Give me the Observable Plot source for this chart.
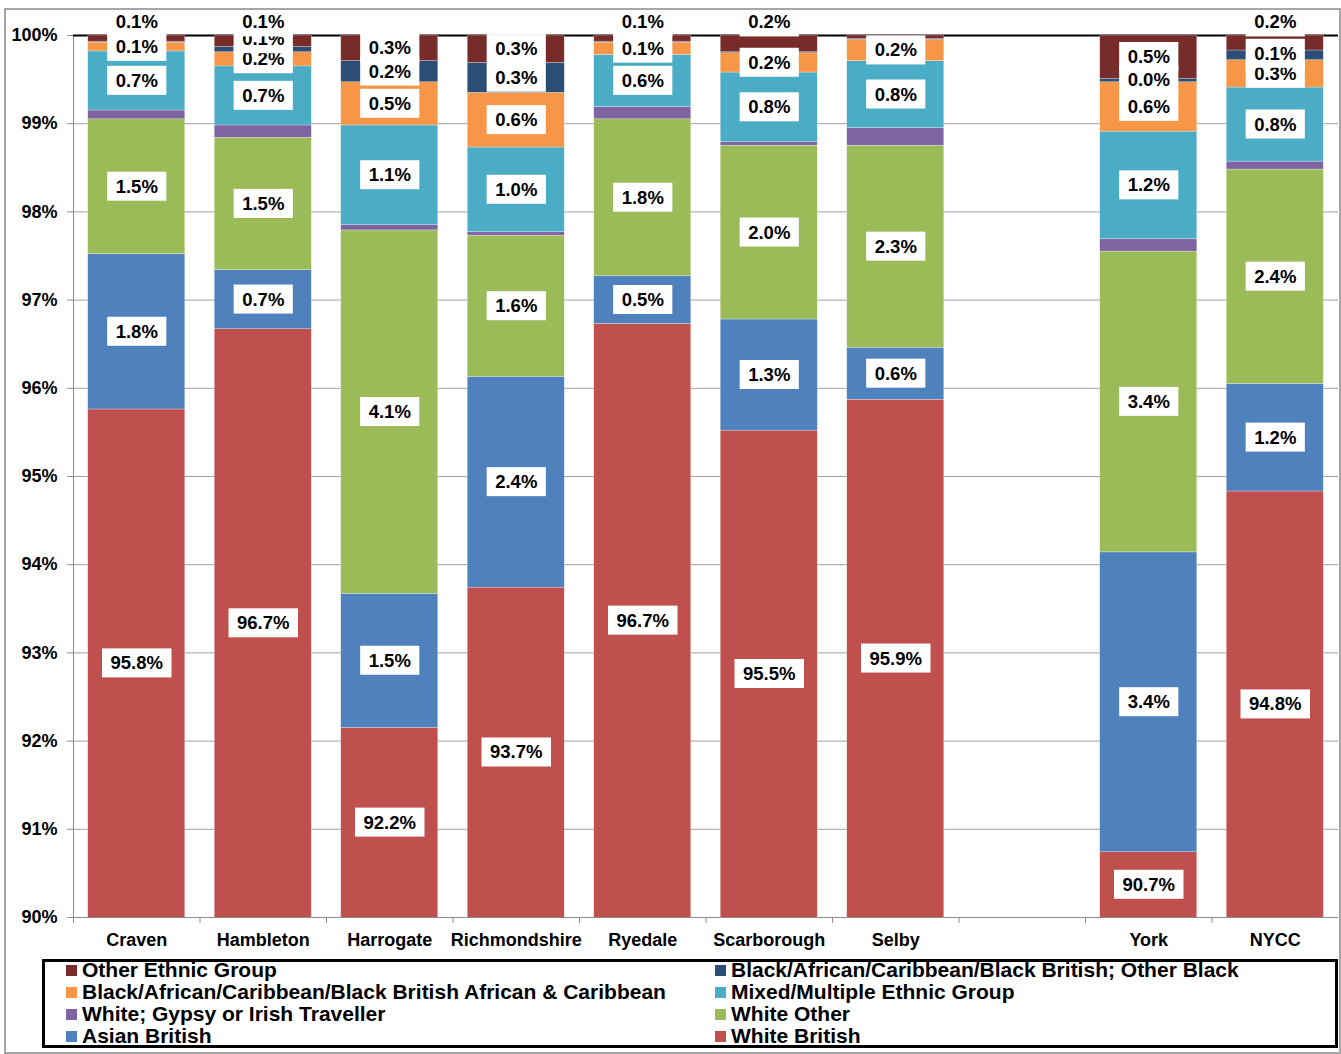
<!DOCTYPE html>
<html>
<head>
<meta charset="utf-8">
<script src="https://cdn.jsdelivr.net/npm/d3@7"></script>
<script src="https://cdn.jsdelivr.net/npm/@observablehq/plot@0.6"></script>
<style>
  body { margin: 0; background: #fff; font-family: "Liberation Sans", Arial, sans-serif; }
  #wrap { position: relative; width: 1341px; height: 1054px; overflow: hidden; }
  #chart { position: absolute; left: 0; top: 0; }
  #frame { position: absolute; left: 4px; top: 8px; width: 1337px; height: 1046px; border: 2px solid #a6a6a6; box-sizing: border-box; pointer-events: none; }
  #legend { position: absolute; left: 42px; top: 959px; width: 1296px; height: 89px; border: 3px solid #000; box-sizing: border-box; background: #fff; }
  #legend .grid { position: absolute; left: 21px; top: -3px; display: grid; grid-template-columns: 649px 600px; }
  #legend .item { font-size: 21px; font-weight: bold; line-height: 22px; height: 22px; white-space: nowrap; color: #000; }
  #legend .sw { display: inline-block; width: 11px; height: 11px; margin-right: 5px; vertical-align: 1px; }
</style>
</head>
<body>
<div id="wrap">
  <div id="chart"></div>
  <div id="legend"><div class="grid"></div></div>
  <div id="frame"></div>
</div>
<script>
// ---------- data ----------
const categories = ["Craven", "Hambleton", "Harrogate", "Richmondshire", "Ryedale", "Scarborough", "Selby", " ", "York", "NYCC"];

const series = [
  "White British",
  "Asian British",
  "White Other",
  "White; Gypsy or Irish Traveller",
  "Mixed/Multiple Ethnic Group",
  "Black/African/Caribbean/Black British African & Caribbean",
  "Black/African/Caribbean/Black British; Other Black",
  "Other Ethnic Group"
];

const colors = ["#C0504D", "#4F81BD", "#9BBB59", "#8064A2", "#4BACC6", "#F79646", "#2C4D75", "#772C2A"];

const whiteBritish  = [95.76, 96.67, 92.15, 93.74, 96.73, 95.52, 95.87, null, 90.74, 94.83];
const asianBritish  = [1.76, 0.67, 1.52, 2.39, 0.54, 1.26, 0.59, null, 3.40, 1.22];
const whiteOther    = [1.53, 1.50, 4.12, 1.60, 1.78, 1.97, 2.29, null, 3.41, 2.43];
const gypsyTraveller= [0.10, 0.14, 0.06, 0.04, 0.14, 0.04, 0.20, null, 0.14, 0.09];
const mixed         = [0.67, 0.67, 1.13, 0.96, 0.59, 0.79, 0.76, null, 1.22, 0.84];
const blackAfrCarib = [0.10, 0.16, 0.49, 0.62, 0.14, 0.22, 0.24, null, 0.56, 0.31];
const otherBlack    = [0.01, 0.06, 0.24, 0.34, 0.01, 0.01, 0.01, null, 0.04, 0.11];
const otherEthnic   = [0.07, 0.13, 0.29, 0.31, 0.07, 0.19, 0.04, null, 0.49, 0.17];

const seriesValues = [whiteBritish, asianBritish, whiteOther, gypsyTraveller, mixed, blackAfrCarib, otherBlack, otherEthnic];

const yTicks = [90, 91, 92, 93, 94, 95, 96, 97, 98, 99, 100];

// data labels that are not shown in the chart
const hiddenLabels = [
  ["Craven", "White; Gypsy or Irish Traveller"], ["Craven", "Black/African/Caribbean/Black British; Other Black"],
  ["Hambleton", "White; Gypsy or Irish Traveller"],
  ["Harrogate", "White; Gypsy or Irish Traveller"],
  ["Richmondshire", "White; Gypsy or Irish Traveller"],
  ["Ryedale", "White; Gypsy or Irish Traveller"], ["Ryedale", "Black/African/Caribbean/Black British; Other Black"],
  ["Scarborough", "White; Gypsy or Irish Traveller"], ["Scarborough", "Black/African/Caribbean/Black British; Other Black"],
  ["Selby", "White; Gypsy or Irish Traveller"], ["Selby", "Black/African/Caribbean/Black British; Other Black"], ["Selby", "Other Ethnic Group"],
  ["York", "White; Gypsy or Irish Traveller"],
  ["NYCC", "White; Gypsy or Irish Traveller"]
];

// ---------- layout ----------
const W = 1341, H = 955, MT = 35, MB = 38, ML = 73, MR = 3;
const pxPerUnit = (H - MT - MB) / (yTicks[yTicks.length - 1] - yTicks[0]);
const step = (W - ML - MR) / categories.length;
const labelGapPx = 20;
const aboveLinePx = 13;

// ---------- build tables ----------
const rows = [];
series.forEach((s, i) => categories.forEach((c, j) => {
  if (seriesValues[i][j] != null) rows.push({cat: c, series: s, value: seriesValues[i][j]});
}));

const isHidden = (c, s) => hiddenLabels.some(([hc, hs]) => hc === c && hs === s);
const labels = [];
categories.forEach((c, j) => {
  let cum = 0, prev = -Infinity;
  series.forEach((s, i) => {
    const v = seriesValues[i][j];
    if (v == null) return;
    const y1 = cum, y2 = cum + v;
    cum = y2;
    if (isHidden(c, s)) return;
    let ly;
    if (i === series.length - 1 && v < 0.25) {
      ly = 100 + aboveLinePx / pxPerUnit;
    } else {
      const center = (Math.max(y1, 90) + y2) / 2;
      ly = Math.max(center, prev + labelGapPx / pxPerUnit);
      prev = ly;
    }
    labels.push({cat: c, series: s, y: ly, text: v.toFixed(1) + "%"});
  });
});

// ---------- chart ----------
const chart = Plot.plot({
  width: W, height: H,
  marginTop: MT, marginBottom: MB, marginLeft: ML, marginRight: MR,
  style: "font-family: 'Liberation Sans', Arial, sans-serif; font-size: 18px; font-weight: bold; color: #000; background: transparent; overflow: visible;",
  x: {domain: categories, paddingInner: 0.233, paddingOuter: 0.1165, round: false, label: null},
  y: {domain: [90, 100], label: null},
  color: {domain: series, range: colors},
  marks: [
    Plot.gridY(yTicks, {stroke: "#a0a0a0", strokeOpacity: 1}),
    Plot.ruleY([90], {stroke: "#8c8c8c"}),
    Plot.frame({anchor: "left", stroke: "#8c8c8c"}),
    Plot.ruleY([100], {stroke: "#000", strokeWidth: 2}),
    Plot.axisY(yTicks, {tickFormat: d => d + "%", tickSize: 6, tickPadding: 10, stroke: "#8c8c8c", label: null}),
    Plot.axisX({tickSize: 0, tickPadding: 16, label: null}),
    Plot.axisX({tickSize: 6, tickFormat: () => "", dx: -step / 2, stroke: "#8c8c8c", label: null}),
    Plot.barY(rows, {x: "cat", y: "value", fill: "series", clip: true, stroke: "#fff", strokeWidth: 0.6, strokeOpacity: 0.45}),
    Plot.text(labels, {x: "cat", y: "y", text: "text", fontSize: 18.5, fontWeight: "bold", fill: "#000"})
  ]
});

document.getElementById("chart").append(chart);

// white boxes behind data labels
chart.querySelectorAll('g[aria-label="text"] text').forEach(t => {
  const bb = t.getBBox();
  const r = document.createElementNS("http://www.w3.org/2000/svg", "rect");
  const cy = bb.y + bb.height / 2;
  r.setAttribute("x", bb.x - 8.5);
  r.setAttribute("y", cy - 14.5);
  r.setAttribute("width", bb.width + 17);
  r.setAttribute("height", 29);
  r.setAttribute("fill", "#fff");
  if (t.getAttribute("transform")) r.setAttribute("transform", t.getAttribute("transform"));
  t.parentNode.insertBefore(r, t);
});

// legend (series in reverse stacking order, two columns)
const grid = document.querySelector("#legend .grid");
series.slice().reverse().forEach(s => {
  const item = document.createElement("div");
  item.className = "item";
  const sw = document.createElement("span");
  sw.className = "sw";
  sw.style.background = colors[series.indexOf(s)];
  item.append(sw, document.createTextNode(s));
  grid.append(item);
});
</script>
</body>
</html>
